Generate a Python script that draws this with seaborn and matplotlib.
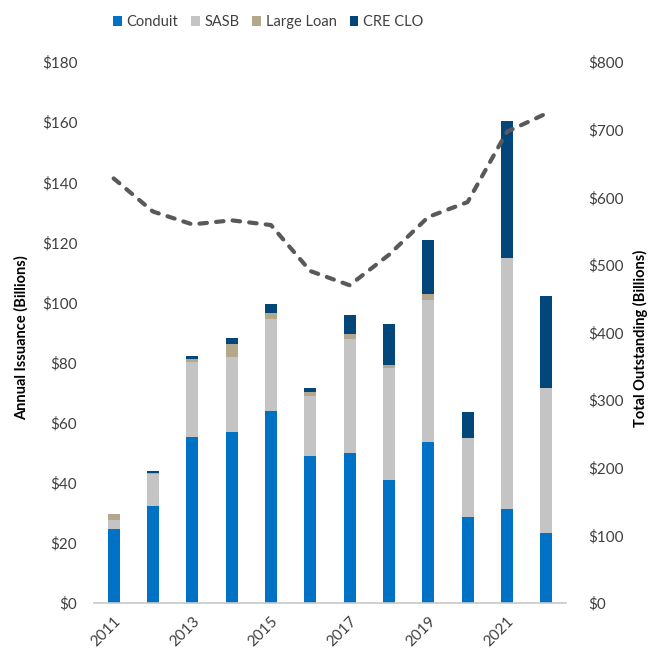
import numpy as np
import pandas as pd
import seaborn as sns
import matplotlib.pyplot as plt

# valores (bilhões de dólares)
years = ["2011", "2012", "2013", "2014", "2015", "2016",
         "2017", "2018", "2019", "2020", "2021", "2022"]
conduit = [24.6, 32.3, 55.2, 56.9, 63.9, 48.9, 49.8, 40.9, 53.7, 28.7, 31.3, 23.3]
sasb = [3.1, 10.6, 25.0, 24.8, 30.6, 20.1, 38.0, 37.3, 47.1, 26.2, 83.6, 48.2]
large_loan = [1.8, 0.4, 1.0, 4.5, 1.9, 1.2, 1.8, 1.0, 2.0, 0.0, 0.0, 0.0]
cre_clo = [0.0, 0.6, 1.1, 1.9, 3.2, 1.3, 6.2, 13.7, 17.9, 8.6, 45.5, 30.6]
outstanding = [628, 579, 560, 566, 559, 491, 470, 515, 571, 593, 697, 724]

series = ["Conduit", "SASB", "Large Loan", "CRE CLO"]
colors = ["#0072C6", "#C4C4C4", "#B3A88B", "#03467A"]

df = pd.DataFrame({"year": years, "Conduit": conduit, "SASB": sasb,
                   "Large Loan": large_loan, "CRE CLO": cre_clo})
cum = df[series].cumsum(axis=1)

sns.set_style("white")
plt.rcParams["font.family"] = ["Lato", "DejaVu Sans"]
text_color = "#404040"

fig = plt.figure(figsize=(6.49, 6.54), dpi=100)
ax = fig.add_axes([0.1448, 0.078, 0.7272, 0.827])

# barras empilhadas: desenha os acumulados do maior para o menor
for name, color in reversed(list(zip(series, colors))):
    sns.barplot(x=df["year"], y=cum[name], color=color, width=0.31,
                ax=ax, label=name, saturation=1, linewidth=0)

ax.set_ylim(0, 180)
ax.set_xlim(-0.5, 11.5)
ax.set_yticks(np.arange(0, 181, 20))
ax.set_yticklabels([f"${v}" for v in range(0, 181, 20)], fontsize=11, color=text_color)
ax.set_ylabel("Annual Issuance (Billions)", fontsize=10.5, fontweight="bold",
              color="black")
ax.yaxis.set_label_coords(-0.138, 0.49)
ax.set_xlabel("")

ax.set_xticks(range(0, 12, 2))
ax.set_xticklabels(years[::2], rotation=45, ha="right", rotation_mode="anchor",
                   fontsize=11, color=text_color)
ax.set_xticks(np.arange(-0.5, 12, 2).tolist() + [11.5], minor=True)
ax.tick_params(axis="x", which="major", length=0, pad=8)
ax.tick_params(axis="x", which="minor", length=6, color="#C8C8C8", width=1)
ax.tick_params(axis="y", length=0, pad=12)

for s in ["top", "left", "right"]:
    ax.spines[s].set_visible(False)
ax.spines["bottom"].set_color("#C8C8C8")
ax.spines["bottom"].set_linewidth(1.2)

# linha do estoque total no eixo secundário
ax2 = ax.twinx()
sns.lineplot(x=np.arange(len(years)), y=outstanding, ax=ax2, color="#595959",
             linewidth=3, dashes=False, linestyle=(0, (1.8, 2.2)))
ax2.get_lines()[0].set_dash_capstyle("round")
ax2.set_ylim(0, 800)
ax2.set_yticks(np.arange(0, 801, 100))
ax2.set_yticklabels([f"${v}" for v in range(0, 801, 100)], fontsize=11, color=text_color)
ax2.tick_params(axis="y", length=0, pad=16)
ax2.set_ylabel("Total Outstanding (Billions)", fontsize=10.5, fontweight="bold",
               color="black")
ax2.yaxis.set_label_coords(1.141, 0.49)
for s in ["top", "left", "right", "bottom"]:
    ax2.spines[s].set_visible(False)

# legenda na ordem original
handles, labels = ax.get_legend_handles_labels()
order = [labels.index(n) for n in series]
ax.legend([handles[i] for i in order], series, loc="center",
          bbox_to_anchor=(0.413, 0.966), bbox_transform=fig.transFigure,
          ncol=4, frameon=False, fontsize=10.5, handlelength=0.6, handleheight=0.6,
          columnspacing=0.9, handletextpad=0.3, labelcolor=text_color)

fig.savefig("out.png", dpi=100)
